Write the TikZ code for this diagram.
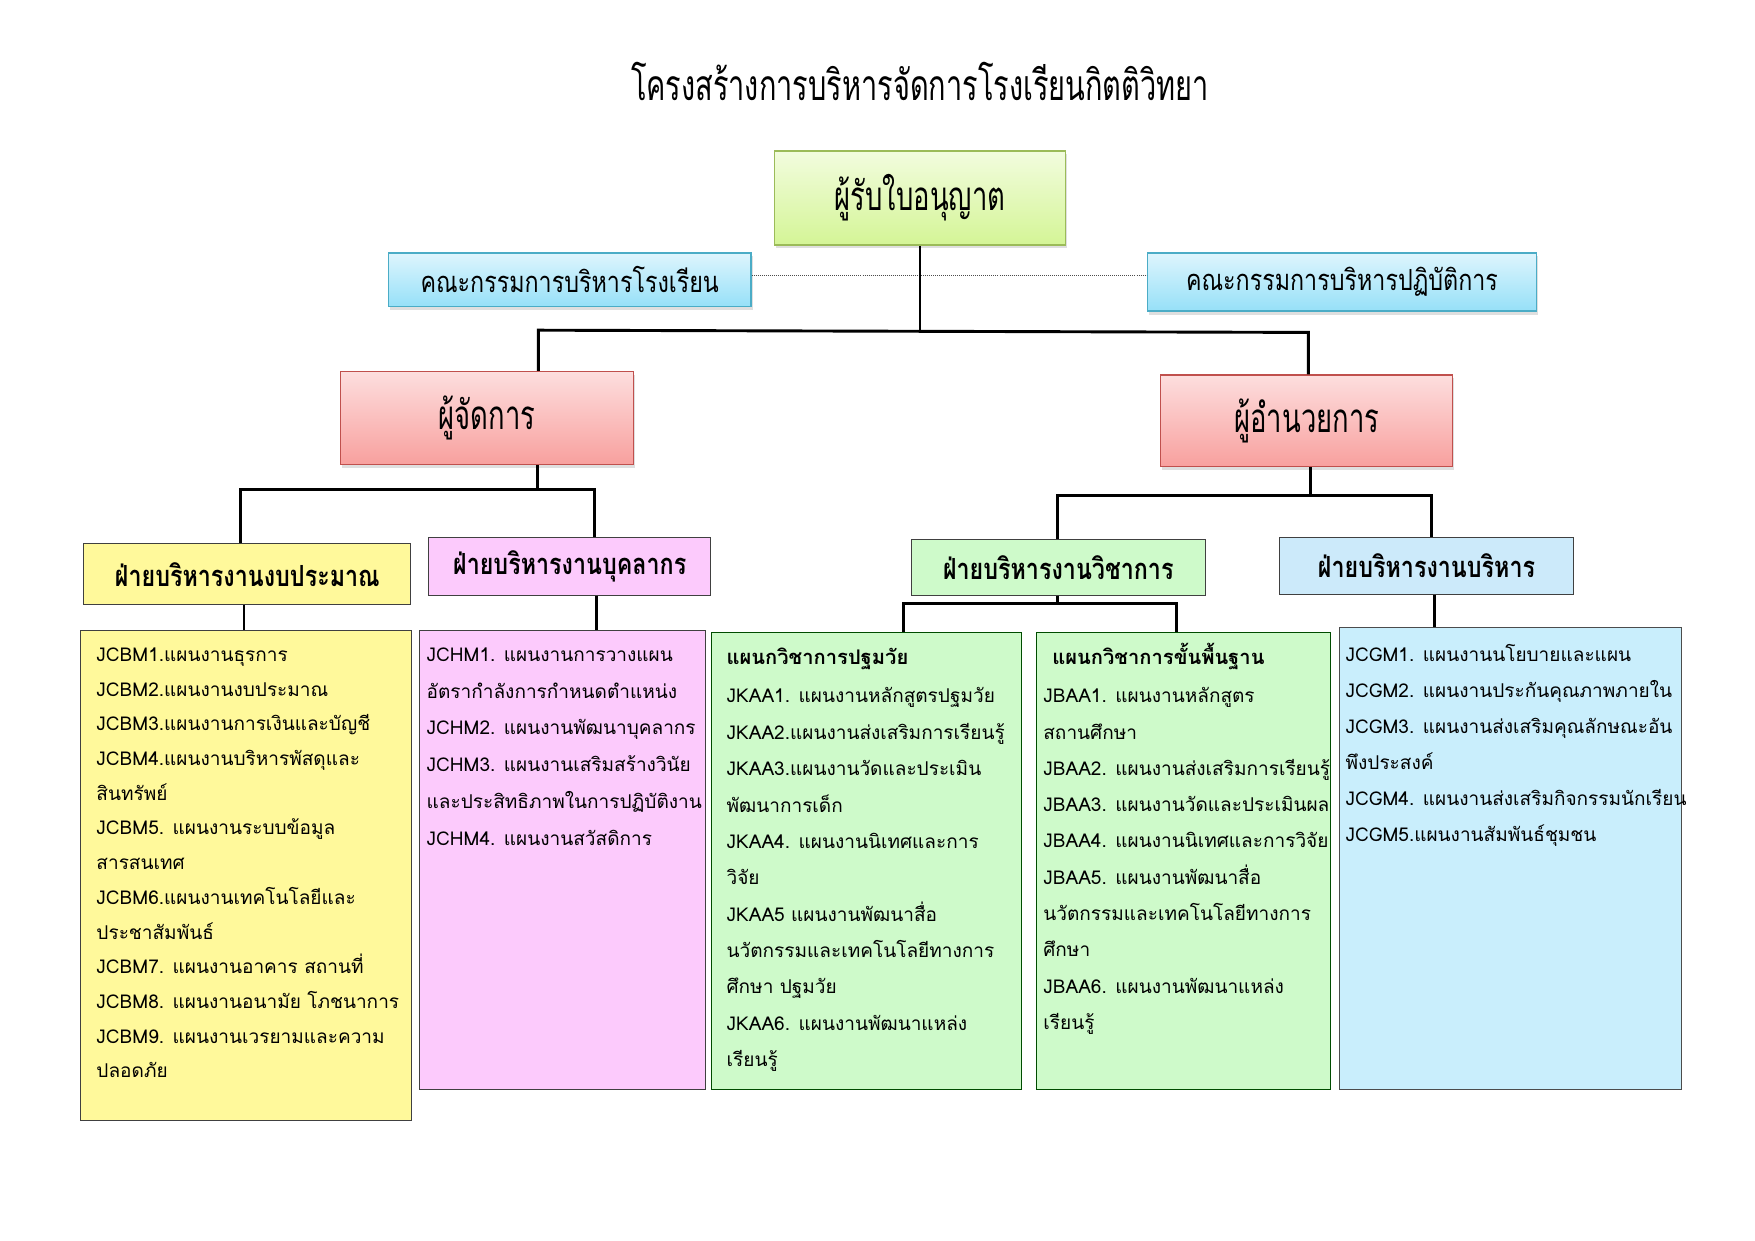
\documentclass[tikz,border=0pt]{standalone}
\usepackage{fontspec}
\newfontfamily\thai[Script=Thai]{Loma}
\newfontfamily\thaicond[Script=Thai,FakeStretch=0.8]{Loma}
\newfontfamily\thaicc[Script=Thai,FakeStretch=0.68]{Loma}
\usetikzlibrary{shadows}
\definecolor{licT}{RGB}{242,252,222}
\definecolor{licB}{RGB}{212,245,150}
\definecolor{licD}{RGB}{155,187,89}
\definecolor{comT}{RGB}{222,245,253}
\definecolor{comB}{RGB}{150,224,248}
\definecolor{comD}{RGB}{75,172,198}
\definecolor{redT}{RGB}{253,222,222}
\definecolor{redB}{RGB}{248,160,158}
\definecolor{redD}{RGB}{192,80,77}
\definecolor{yel}{RGB}{255,249,155}
\definecolor{pnk}{RGB}{252,202,252}
\definecolor{grn}{RGB}{206,250,202}
\definecolor{blu}{RGB}{204,234,250}
\definecolor{blc}{RGB}{201,238,252}
\begin{document}
\begin{tikzpicture}[x=1pt,y=-1pt,
  shbox/.style={rectangle, inner sep=0pt, line width=1.2pt,
    drop shadow={opacity=0.25, shadow xshift=1.5pt, shadow yshift=-3pt}},
  flat/.style={rectangle, draw=black!75, line width=0.9pt, inner sep=0pt},
  conn/.style={line width=2.6pt},
  bigtxt/.style={font=\thaicc\fontsize{36}{40}\selectfont},
  comtxt/.style={font=\thaicond\fontsize{26}{30}\selectfont},
  hdrtxt/.style={font=\thaicond\bfseries\fontsize{26}{30}\selectfont},
  item/.style={font=\thai\fontsize{17}{20}\selectfont, anchor=base west, inner sep=0pt},
  itemb/.style={font=\thai\bfseries\fontsize{18}{20}\selectfont, anchor=base west, inner sep=0pt}
]
\useasboundingbox[fill=white] (0,0) rectangle (1568,1108.7);

\node[font=\thaicc\fontsize{38}{42}\selectfont, anchor=base, inner sep=0pt] (title) at (822,90)
  {โครงสร้างการบริหารจัดการโรงเรียนกิตติวิทยา};

% top level
\node[shbox, top color=licT, bottom color=licB, draw=licD, minimum width=260pt, minimum height=84pt, bigtxt] (lic) at (822,177) {ผู้รับใบอนุญาต};
\node[shbox, top color=comT, bottom color=comB, draw=comD, minimum width=324pt, minimum height=48pt, comtxt] (comL) at (509,250) {คณะกรรมการบริหารโรงเรียน};
\node[shbox, top color=comT, bottom color=comB, draw=comD, minimum width=348pt, minimum height=52pt, comtxt] (comR) at (1199,252) {คณะกรรมการบริหารปฏิบัติการ};
\node[shbox, top color=redT, bottom color=redB, draw=redD, minimum width=262pt, minimum height=83pt, bigtxt] (mgr) at (435,373.5) {ผู้จัดการ};
\node[shbox, top color=redT, bottom color=redB, draw=redD, minimum width=261pt, minimum height=82pt, bigtxt] (dir) at (1167.5,376) {ผู้อำนวยการ};

% headers
\node[flat, fill=yel, minimum width=292pt, minimum height=54pt, hdrtxt] (hB) at (221,513) {ฝ่ายบริหารงานงบประมาณ};
\node[flat, fill=pnk, minimum width=252pt, minimum height=52pt, hdrtxt] (hH) at (509,506) {ฝ่ายบริหารงานบุคลากร};
\node[flat, fill=grn, minimum width=263pt, minimum height=50pt, hdrtxt] (hA) at (945.5,507) {ฝ่ายบริหารงานวิชาการ};
\node[flat, fill=blu, minimum width=263pt, minimum height=51pt, hdrtxt] (hG) at (1274.5,505.5) {ฝ่ายบริหารงานบริหาร};

% content boxes
\node[flat, fill=yel, minimum width=296pt, minimum height=438pt] (cB) at (220,782) {};
\node[flat, fill=pnk, minimum width=255pt, minimum height=410pt] (cH) at (502.5,768) {};
\node[flat, fill=grn, draw=black!70!green, minimum width=277pt, minimum height=408pt] (cK) at (774.5,769) {};
\node[flat, fill=grn, draw=black!70!green, minimum width=263pt, minimum height=408pt] (cJ) at (1057.5,769) {};
\node[flat, fill=blc, draw=black!70, minimum width=305pt, minimum height=412pt] (cG) at (1349.5,767) {};

% connectors
\coordinate (jm) at (822,295);
\coordinate (jl) at (481,295);
\coordinate (jr) at (1169,297);
\draw[densely dotted, line width=0.8pt, black!70] ([yshift=4pt]comL.east) -- ([yshift=4pt]comL.east -| comR.west);
\draw[conn] (lic.south) -- (jm);
\draw[conn] (jl |- mgr.north) -- (jl) -- (jr) -- (jr |- dir.north);

\coordinate (m0) at (480,437);
\coordinate (m1) at (215,437);
\coordinate (m2) at (531,437);
\draw[conn] (m0 |- mgr.south) -- (m0);
\draw[conn] (m1 |- hB.north) -- (m1) -- (m2) -- (m2 |- hH.north);

\coordinate (d0) at (1171,443);
\coordinate (d1) at (945,443);
\coordinate (d2) at (1279,443);
\draw[conn] (d0 |- dir.south) -- (d0);
\draw[conn] (d1 |- hA.north) -- (d1) -- (d2) -- (d2 |- hG.north);

\coordinate (bB) at (218,563);
\draw[conn] (bB |- hB.south) -- (bB |- cB.north);
\coordinate (bH) at (533,563);
\draw[conn] (bH |- hH.south) -- (bH |- cH.north);
\coordinate (a0) at (945,539);
\coordinate (a1) at (807,539);
\coordinate (a2) at (1051,539);
\draw[conn] (a0 |- hA.south) -- (a0);
\draw[conn] (a1 |- cK.north) -- (a1) -- (a2) -- (a2 |- cJ.north);
\coordinate (bG) at (1282,561);
\draw[conn] (bG |- hG.south) -- (bG |- cG.north);

% texts
\foreach \t [count=\i] in {JCBM1.แผนงานธุรการ, JCBM2.แผนงานงบประมาณ, JCBM3.แผนงานการเงินและบัญชี, JCBM4.แผนงานบริหารพัสดุและ, สินทรัพย์, JCBM5. แผนงานระบบข้อมูล, สารสนเทศ, JCBM6.แผนงานเทคโนโลยีและ, ประชาสัมพันธ์, JCBM7. แผนงานอาคาร สถานที่, JCBM8. แผนงานอนามัย โภชนาการ, JCBM9. แผนงานเวรยามและความ, ปลอดภัย}
  \node[item] (tb\i) at (86,{591+31*(\i-1)}) {\t};

\foreach \t [count=\i] in {JCHM1. แผนงานการวางแผน, อัตรากำลังการกำหนดตำแหน่ง, JCHM2. แผนงานพัฒนาบุคลากร, JCHM3. แผนงานเสริมสร้างวินัย, และประสิทธิภาพในการปฏิบัติงาน, JCHM4. แผนงานสวัสดิการ}
  \node[item] (th\i) at (381,{591+32.8*(\i-1)}) {\t};

\node[itemb] (tk0) at (649,594) {แผนกวิชาการปฐมวัย};
\foreach \t [count=\i] in {JKAA1. แผนงานหลักสูตรปฐมวัย, JKAA2.แผนงานส่งเสริมการเรียนรู้, JKAA3.แผนงานวัดและประเมิน, พัฒนาการเด็ก, JKAA4. แผนงานนิเทศและการ, วิจัย, JKAA5 แผนงานพัฒนาสื่อ, นวัตกรรมและเทคโนโลยีทางการ, ศึกษา ปฐมวัย, JKAA6. แผนงานพัฒนาแหล่ง, เรียนรู้}
  \node[item] (tk\i) at (649,{628+32.5*(\i-1)}) {\t};

\node[itemb] (tj0) at (940,594) {แผนกวิชาการขั้นพื้นฐาน};
\foreach \t [count=\i] in {JBAA1. แผนงานหลักสูตร, สถานศึกษา, JBAA2. แผนงานส่งเสริมการเรียนรู้, JBAA3. แผนงานวัดและประเมินผล, JBAA4. แผนงานนิเทศและการวิจัย, JBAA5. แผนงานพัฒนาสื่อ, นวัตกรรมและเทคโนโลยีทางการ, ศึกษา, JBAA6. แผนงานพัฒนาแหล่ง, เรียนรู้}
  \node[item] (tj\i) at (932,{628+32.4*(\i-1)}) {\t};

\foreach \t [count=\i] in {JCGM1. แผนงานนโยบายและแผน, JCGM2. แผนงานประกันคุณภาพภายใน, JCGM3. แผนงานส่งเสริมคุณลักษณะอัน, พึงประสงค์, JCGM4. แผนงานส่งเสริมกิจกรรมนักเรียน, JCGM5.แผนงานสัมพันธ์ชุมชน}
  \node[item] (tg\i) at (1202,{591+32.2*(\i-1)}) {\t};
\end{tikzpicture}
\end{document}
